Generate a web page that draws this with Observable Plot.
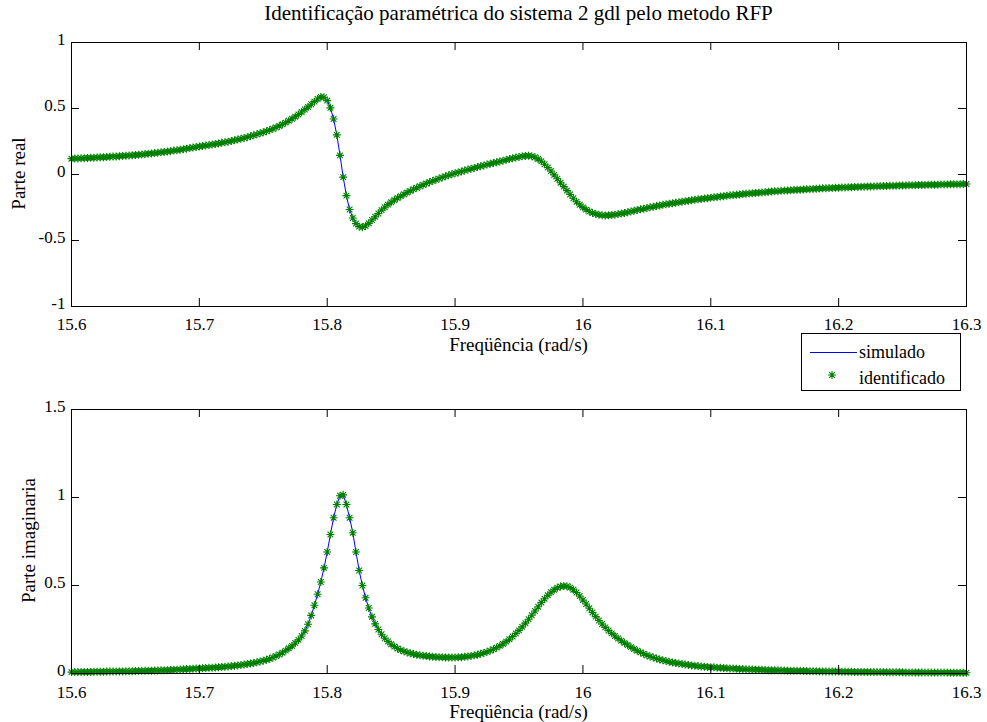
<!DOCTYPE html>
<html><head><meta charset="utf-8">
<script src="https://cdn.jsdelivr.net/npm/d3@7"></script>
<script src="https://cdn.jsdelivr.net/npm/@observablehq/plot@0.6"></script>
<style>
body{margin:0;background:#fff;}
#wrap{position:relative;width:987px;height:722px;overflow:hidden;font-family:"Liberation Serif","Tinos","Times New Roman","Nimbus Roman","FreeSerif","DejaVu Serif",serif;color:#000;background:#fff;}
.abs{position:absolute;white-space:nowrap;}
.ylab{width:240px;height:19px;line-height:19px;text-align:center;font-size:19px;transform:rotate(-90deg);}
.xlab{left:71px;width:895px;height:19px;line-height:19px;text-align:center;font-size:19px;}
</style></head><body>
<div id="wrap">
  <div id="top" class="abs" style="left:0;top:0"></div>
  <div id="bot" class="abs" style="left:0;top:352px"></div>
  <div class="abs" style="left:71px;width:895px;top:1px;height:24px;line-height:24px;text-align:center;font-size:21px;">Identificação paramétrica do sistema 2 gdl pelo metodo RFP</div>
  <div class="abs xlab" style="top:335px;">Freqüência (rad/s)</div>
  <div class="abs xlab" style="top:702px;">Freqüência (rad/s)</div>
  <div class="abs ylab" style="left:-102px;top:164px;">Parte real</div>
  <div class="abs ylab" style="left:-92px;top:531px;">Parte imaginaria</div>
  <div id="legend" class="abs" style="left:801px;top:333px;"></div>
</div>
<script>
// Frequency grid (rad/s)
const frequencias = [
15.6,15.6025,15.605,15.6075,15.61,15.6125,15.615,15.6175,15.62,15.6225,15.625,15.6275,15.63,15.6325,15.635,15.6375,15.64,15.6425,15.645,15.6475,
15.65,15.6525,15.655,15.6575,15.66,15.6625,15.665,15.6675,15.67,15.6725,15.675,15.6775,15.68,15.6825,15.685,15.6875,15.69,15.6925,15.695,15.6975,
15.7,15.7025,15.705,15.7075,15.71,15.7125,15.715,15.7175,15.72,15.7225,15.725,15.7275,15.73,15.7325,15.735,15.7375,15.74,15.7425,15.745,15.7475,
15.75,15.7525,15.755,15.7575,15.76,15.7625,15.765,15.7675,15.77,15.7725,15.775,15.7775,15.78,15.7825,15.785,15.7875,15.79,15.7925,15.795,15.7975,
15.8,15.8025,15.805,15.8075,15.81,15.8125,15.815,15.8175,15.82,15.8225,15.825,15.8275,15.83,15.8325,15.835,15.8375,15.84,15.8425,15.845,15.8475,
15.85,15.8525,15.855,15.8575,15.86,15.8625,15.865,15.8675,15.87,15.8725,15.875,15.8775,15.88,15.8825,15.885,15.8875,15.89,15.8925,15.895,15.8975,
15.9,15.9025,15.905,15.9075,15.91,15.9125,15.915,15.9175,15.92,15.9225,15.925,15.9275,15.93,15.9325,15.935,15.9375,15.94,15.9425,15.945,15.9475,
15.95,15.9525,15.955,15.9575,15.96,15.9625,15.965,15.9675,15.97,15.9725,15.975,15.9775,15.98,15.9825,15.985,15.9875,15.99,15.9925,15.995,15.9975,
16,16.0025,16.005,16.0075,16.01,16.0125,16.015,16.0175,16.02,16.0225,16.025,16.0275,16.03,16.0325,16.035,16.0375,16.04,16.0425,16.045,16.0475,
16.05,16.0525,16.055,16.0575,16.06,16.0625,16.065,16.0675,16.07,16.0725,16.075,16.0775,16.08,16.0825,16.085,16.0875,16.09,16.0925,16.095,16.0975,
16.1,16.1025,16.105,16.1075,16.11,16.1125,16.115,16.1175,16.12,16.1225,16.125,16.1275,16.13,16.1325,16.135,16.1375,16.14,16.1425,16.145,16.1475,
16.15,16.1525,16.155,16.1575,16.16,16.1625,16.165,16.1675,16.17,16.1725,16.175,16.1775,16.18,16.1825,16.185,16.1875,16.19,16.1925,16.195,16.1975,
16.2,16.2025,16.205,16.2075,16.21,16.2125,16.215,16.2175,16.22,16.2225,16.225,16.2275,16.23,16.2325,16.235,16.2375,16.24,16.2425,16.245,16.2475,
16.25,16.2525,16.255,16.2575,16.26,16.2625,16.265,16.2675,16.27,16.2725,16.275,16.2775,16.28,16.2825,16.285,16.2875,16.29,16.2925,16.295,16.2975,
16.3];

// Parte real
const parteReal = [
0.120,0.121,0.122,0.123,0.124,0.125,0.126,0.127,0.129,0.130,0.131,0.133,0.134,0.136,0.137,0.139,0.141,0.142,0.144,0.146,
0.148,0.150,0.152,0.155,0.157,0.160,0.162,0.165,0.168,0.171,0.174,0.177,0.181,0.184,0.188,0.192,0.196,0.200,0.204,0.208,
0.212,0.216,0.219,0.223,0.227,0.231,0.235,0.240,0.244,0.249,0.254,0.259,0.265,0.271,0.277,0.283,0.290,0.297,0.304,0.312,
0.320,0.328,0.337,0.347,0.357,0.368,0.380,0.393,0.407,0.422,0.438,0.455,0.473,0.492,0.512,0.532,0.552,0.572,0.588,0.585,
0.560,0.505,0.420,0.300,0.145,-0.020,-0.160,-0.265,-0.330,-0.372,-0.395,-0.400,-0.390,-0.370,-0.345,-0.320,-0.295,-0.270,-0.248,-0.228,
-0.210,-0.193,-0.178,-0.164,-0.150,-0.137,-0.124,-0.112,-0.100,-0.089,-0.078,-0.068,-0.058,-0.049,-0.040,-0.031,-0.022,-0.014,-0.006,0.002,
0.009,0.016,0.023,0.030,0.037,0.043,0.050,0.056,0.063,0.069,0.075,0.081,0.087,0.093,0.099,0.105,0.111,0.117,0.123,0.128,
0.133,0.138,0.141,0.142,0.139,0.131,0.118,0.100,0.078,0.053,0.026,-0.003,-0.032,-0.062,-0.092,-0.122,-0.152,-0.180,-0.206,-0.229,
-0.249,-0.266,-0.280,-0.291,-0.299,-0.305,-0.309,-0.310,-0.309,-0.307,-0.304,-0.300,-0.296,-0.291,-0.286,-0.280,-0.275,-0.269,-0.264,-0.259,
-0.254,-0.249,-0.244,-0.239,-0.235,-0.230,-0.226,-0.222,-0.218,-0.214,-0.210,-0.206,-0.202,-0.199,-0.195,-0.192,-0.188,-0.185,-0.182,-0.179,
-0.176,-0.173,-0.170,-0.167,-0.164,-0.161,-0.158,-0.156,-0.153,-0.151,-0.148,-0.146,-0.144,-0.142,-0.140,-0.138,-0.136,-0.134,-0.131,-0.129,
-0.127,-0.126,-0.124,-0.122,-0.121,-0.119,-0.118,-0.116,-0.115,-0.113,-0.112,-0.111,-0.109,-0.108,-0.107,-0.105,-0.104,-0.103,-0.102,-0.101,
-0.100,-0.099,-0.098,-0.097,-0.096,-0.095,-0.094,-0.093,-0.092,-0.091,-0.091,-0.090,-0.089,-0.088,-0.088,-0.087,-0.086,-0.086,-0.085,-0.084,
-0.084,-0.083,-0.082,-0.082,-0.081,-0.080,-0.080,-0.079,-0.078,-0.078,-0.077,-0.077,-0.076,-0.075,-0.075,-0.074,-0.074,-0.073,-0.073,-0.072,
-0.072];

// Parte imaginaria
const parteImag = [
0.008,0.008,0.008,0.009,0.009,0.009,0.009,0.010,0.010,0.010,0.010,0.011,0.011,0.011,0.012,0.012,0.012,0.013,0.013,0.013,
0.014,0.014,0.015,0.015,0.016,0.016,0.017,0.017,0.018,0.019,0.019,0.020,0.021,0.022,0.023,0.024,0.025,0.026,0.027,0.028,
0.029,0.030,0.031,0.032,0.033,0.034,0.035,0.037,0.038,0.040,0.042,0.044,0.046,0.048,0.051,0.054,0.057,0.060,0.064,0.068,
0.073,0.078,0.084,0.091,0.099,0.108,0.118,0.130,0.143,0.157,0.173,0.191,0.213,0.242,0.280,0.330,0.388,0.450,0.520,0.600,
0.690,0.790,0.885,0.960,1.010,1.015,0.960,0.885,0.800,0.690,0.585,0.500,0.430,0.372,0.322,0.282,0.250,0.223,0.200,0.182,
0.166,0.153,0.142,0.133,0.126,0.120,0.115,0.111,0.107,0.104,0.101,0.099,0.097,0.095,0.094,0.093,0.092,0.091,0.091,0.091,
0.091,0.092,0.093,0.095,0.097,0.100,0.103,0.107,0.112,0.117,0.123,0.130,0.138,0.147,0.157,0.168,0.181,0.195,0.210,0.227,
0.245,0.265,0.286,0.308,0.331,0.355,0.379,0.403,0.425,0.445,0.462,0.476,0.487,0.494,0.497,0.496,0.488,0.476,0.460,0.440,
0.418,0.395,0.371,0.347,0.323,0.301,0.281,0.262,0.244,0.228,0.213,0.199,0.186,0.174,0.162,0.150,0.139,0.129,0.120,0.112,
0.104,0.097,0.091,0.085,0.080,0.075,0.071,0.067,0.063,0.060,0.057,0.054,0.051,0.049,0.046,0.044,0.042,0.040,0.039,0.037,
0.036,0.035,0.033,0.032,0.031,0.030,0.029,0.028,0.027,0.026,0.025,0.024,0.023,0.023,0.022,0.021,0.021,0.020,0.019,0.019,
0.018,0.018,0.017,0.017,0.016,0.016,0.015,0.015,0.015,0.014,0.014,0.013,0.013,0.013,0.012,0.012,0.012,0.011,0.011,0.011,
0.011,0.010,0.010,0.010,0.010,0.009,0.009,0.009,0.009,0.009,0.008,0.008,0.008,0.008,0.008,0.007,0.007,0.007,0.007,0.007,
0.007,0.006,0.006,0.006,0.006,0.006,0.006,0.006,0.005,0.005,0.005,0.005,0.005,0.005,0.005,0.004,0.004,0.004,0.004,0.004,
0.004];

const xTicks = [15.6, 15.7, 15.8, 15.9, 16, 16.1, 16.2, 16.3];
const yTicksReal = [-1, -0.5, 0, 0.5, 1];
const yTicksImag = [0, 0.5, 1, 1.5];
const seriesNames = ["simulado", "identificado"];

const FONT = "'Liberation Serif','Tinos','Times New Roman','Nimbus Roman','FreeSerif','DejaVu Serif',serif";

// MATLAB-style '*' marker: plus + cross
const asterisk8 = {
  draw(context, size) {
    const r = Math.sqrt(size / Math.PI);
    const d = r * Math.SQRT1_2;
    context.moveTo(-r, 0); context.lineTo(r, 0);
    context.moveTo(0, -r); context.lineTo(0, r);
    context.moveTo(-d, -d); context.lineTo(d, d);
    context.moveTo(-d, d); context.lineTo(d, -d);
  }
};

function panel(values, yTicks, height, marginTop, marginBottom, tickPad) {
  const rows = frequencias.map((f, i) => ({f, v: values[i]}));
  const W = 987 - 71 - 21, H = height - marginTop - marginBottom;
  return Plot.plot({
    width: 987, height, marginLeft: 71, marginRight: 21, marginTop, marginBottom,
    x: {domain: d3.extent(xTicks)},
    y: {domain: d3.extent(yTicks)},
    style: {fontFamily: FONT, fontSize: "17px", color: "black", background: "transparent", overflow: "visible"},
    marks: [
      Plot.line(rows, {x: "f", y: "v", stroke: "#0000ff", strokeWidth: 1}),
      Plot.dot(rows, {x: "f", y: "v", symbol: asterisk8, r: 4, stroke: "#008000", strokeWidth: 1.1, fill: "none"}),
      Plot.frame({stroke: "black", strokeWidth: 1}),
      Plot.ruleX(xTicks, {x: d => d, insetTop: H - 8, stroke: "black"}),
      Plot.ruleX(xTicks, {x: d => d, insetBottom: H - 8, stroke: "black"}),
      Plot.ruleY(yTicks, {y: d => d, insetRight: W - 8, stroke: "black"}),
      Plot.ruleY(yTicks, {y: d => d, insetLeft: W - 8, stroke: "black"}),
      Plot.axisX(xTicks, {tickSize: 0, tickPadding: tickPad, tickFormat: d => String(d), label: null}),
      Plot.axisY(yTicks, {tickSize: 0, tickPadding: 6, dy: -3, tickFormat: d => String(d), label: null})
    ]
  });
}

document.getElementById("top").append(panel(parteReal, yTicksReal, 352, 42, 46, 11));
document.getElementById("bot").append(panel(parteImag, yTicksImag, 370, 57, 49, 12));

// Legend box
const lg = d3.create("svg").attr("width", 161).attr("height", 59)
  .style("font-family", FONT).style("font-size", "18px");
lg.append("rect").attr("x", 0.5).attr("y", 0.5).attr("width", 159).attr("height", 57).attr("fill", "white").attr("stroke", "black");
lg.append("line").attr("x1", 9).attr("x2", 56).attr("y1", 19.5).attr("y2", 19.5).attr("stroke", "#0000ff").attr("stroke-width", 1);
lg.append("path").attr("d", d3.symbol(asterisk8, Math.PI * 4 * 4)()).attr("transform", "translate(31,42)").attr("fill", "none").attr("stroke", "#008000").attr("stroke-width", 1.1);
lg.append("text").attr("x", 58).attr("y", 25).text(seriesNames[0]);
lg.append("text").attr("x", 58).attr("y", 51).text(seriesNames[1]);
document.getElementById("legend").append(lg.node());
</script>
</body></html>
